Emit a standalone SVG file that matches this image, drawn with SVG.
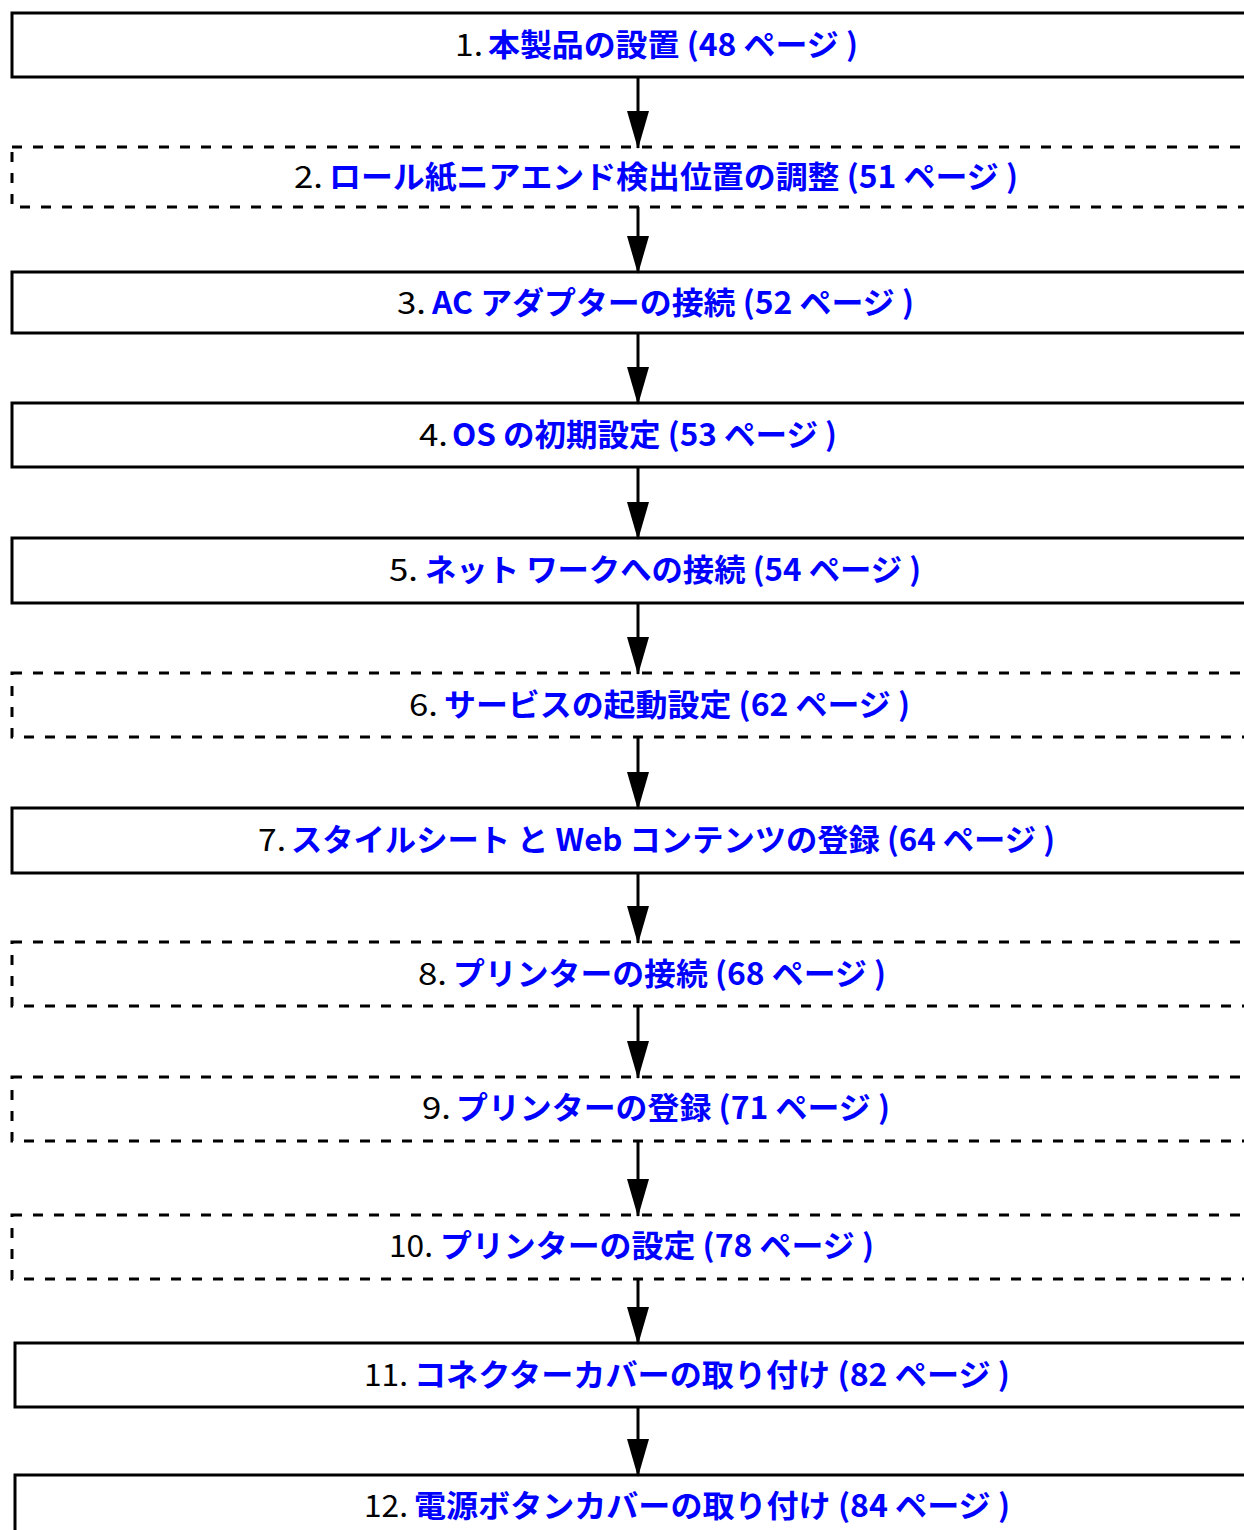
<svg xmlns="http://www.w3.org/2000/svg" width="1244" height="1530" viewBox="0 0 1244 1530">
<style>
.box{fill:#fff;stroke:#000;stroke-width:3}
.dash{fill:#fff;stroke:#000;stroke-width:3;stroke-dasharray:10 11}
.num{font-family:"Noto Sans CJK JP","Noto Sans",sans-serif;font-size:31px;fill:#000}
.lbl{font-family:"Noto Sans CJK JP","Noto Sans",sans-serif;font-size:31px;font-weight:bold;fill:#0000ff}
.conn line{stroke:#000;stroke-width:3}
</style>
<defs>
<marker id="ah" markerUnits="userSpaceOnUse" markerWidth="38" markerHeight="22" refX="37" refY="11" orient="auto" viewBox="0 0 38 22">
<polygon points="0,0 38,11 0,22" fill="#000"/>
</marker>
</defs>
<rect width="1244" height="1530" fill="#fff"/>
<g id="node1"><rect class="box" x="12" y="13" width="1260" height="64"/>
<text class="num" x="455" y="56" textLength="28" lengthAdjust="spacingAndGlyphs">1.</text>
<text class="lbl" x="488" y="56" textLength="370" lengthAdjust="spacingAndGlyphs">本製品の設置 (48 ページ )</text></g>
<g id="node2"><rect class="dash" x="12" y="147" width="1260" height="60"/>
<text class="num" x="294" y="188" textLength="29" lengthAdjust="spacingAndGlyphs">2.</text>
<text class="lbl" x="329" y="188" textLength="689" lengthAdjust="spacingAndGlyphs">ロール紙ニアエンド検出位置の調整 (51 ページ )</text></g>
<g id="node3"><rect class="box" x="12" y="272" width="1260" height="61"/>
<text class="num" x="397" y="314" textLength="29" lengthAdjust="spacingAndGlyphs">3.</text>
<text class="lbl" x="432" y="314" textLength="482" lengthAdjust="spacingAndGlyphs">AC アダプターの接続 (52 ページ )</text></g>
<g id="node4"><rect class="box" x="12" y="403" width="1260" height="64"/>
<text class="num" x="419" y="446" textLength="29" lengthAdjust="spacingAndGlyphs">4.</text>
<text class="lbl" x="452" y="446" textLength="385" lengthAdjust="spacingAndGlyphs">OS の初期設定 (53 ページ )</text></g>
<g id="node5"><rect class="box" x="12" y="538" width="1260" height="65"/>
<text class="num" x="389" y="581" textLength="29" lengthAdjust="spacingAndGlyphs">5.</text>
<text class="lbl" x="425" y="581" textLength="496" lengthAdjust="spacingAndGlyphs">ネット ワークへの接続 (54 ページ )</text></g>
<g id="node6"><rect class="dash" x="12" y="673" width="1260" height="64"/>
<text class="num" x="409" y="716" textLength="29" lengthAdjust="spacingAndGlyphs">6.</text>
<text class="lbl" x="444" y="716" textLength="466" lengthAdjust="spacingAndGlyphs">サービスの起動設定 (62 ページ )</text></g>
<g id="node7"><rect class="box" x="12" y="808" width="1260" height="65"/>
<text class="num" x="258" y="851" textLength="28" lengthAdjust="spacingAndGlyphs">7.</text>
<text class="lbl" x="291" y="851" textLength="764" lengthAdjust="spacingAndGlyphs">スタイルシート と Web コンテンツの登録 (64 ページ )</text></g>
<g id="node8"><rect class="dash" x="12" y="942" width="1260" height="64"/>
<text class="num" x="418" y="985" textLength="29" lengthAdjust="spacingAndGlyphs">8.</text>
<text class="lbl" x="453" y="985" textLength="433" lengthAdjust="spacingAndGlyphs">プリンターの接続 (68 ページ )</text></g>
<g id="node9"><rect class="dash" x="12" y="1077" width="1260" height="64"/>
<text class="num" x="422" y="1119" textLength="29" lengthAdjust="spacingAndGlyphs">9.</text>
<text class="lbl" x="456" y="1119" textLength="434" lengthAdjust="spacingAndGlyphs">プリンターの登録 (71 ページ )</text></g>
<g id="node10"><rect class="dash" x="12" y="1215" width="1260" height="64"/>
<text class="num" x="389" y="1257" textLength="44" lengthAdjust="spacingAndGlyphs">10.</text>
<text class="lbl" x="440" y="1257" textLength="434" lengthAdjust="spacingAndGlyphs">プリンターの設定 (78 ページ )</text></g>
<g id="node11"><rect class="box" x="15" y="1343" width="1260" height="64"/>
<text class="num" x="364" y="1386" textLength="44" lengthAdjust="spacingAndGlyphs">11.</text>
<text class="lbl" x="414" y="1386" textLength="596" lengthAdjust="spacingAndGlyphs">コネクターカバーの取り付け (82 ページ )</text></g>
<g id="node12"><rect class="box" x="15" y="1475" width="1260" height="80"/>
<text class="num" x="364" y="1517" textLength="44" lengthAdjust="spacingAndGlyphs">12.</text>
<text class="lbl" x="414" y="1517" textLength="596" lengthAdjust="spacingAndGlyphs">電源ボタンカバーの取り付け (84 ページ )</text></g>
<g id="connectors" class="conn">
<line x1="638" y1="77" x2="638" y2="148" marker-end="url(#ah)"/>
<line x1="638" y1="207" x2="638" y2="273" marker-end="url(#ah)"/>
<line x1="638" y1="333" x2="638" y2="404" marker-end="url(#ah)"/>
<line x1="638" y1="467" x2="638" y2="539" marker-end="url(#ah)"/>
<line x1="638" y1="603" x2="638" y2="674" marker-end="url(#ah)"/>
<line x1="638" y1="737" x2="638" y2="809" marker-end="url(#ah)"/>
<line x1="638" y1="873" x2="638" y2="943" marker-end="url(#ah)"/>
<line x1="638" y1="1006" x2="638" y2="1078" marker-end="url(#ah)"/>
<line x1="638" y1="1141" x2="638" y2="1216" marker-end="url(#ah)"/>
<line x1="638" y1="1279" x2="638" y2="1344" marker-end="url(#ah)"/>
<line x1="638" y1="1407" x2="638" y2="1476" marker-end="url(#ah)"/>
</g>
</svg>
